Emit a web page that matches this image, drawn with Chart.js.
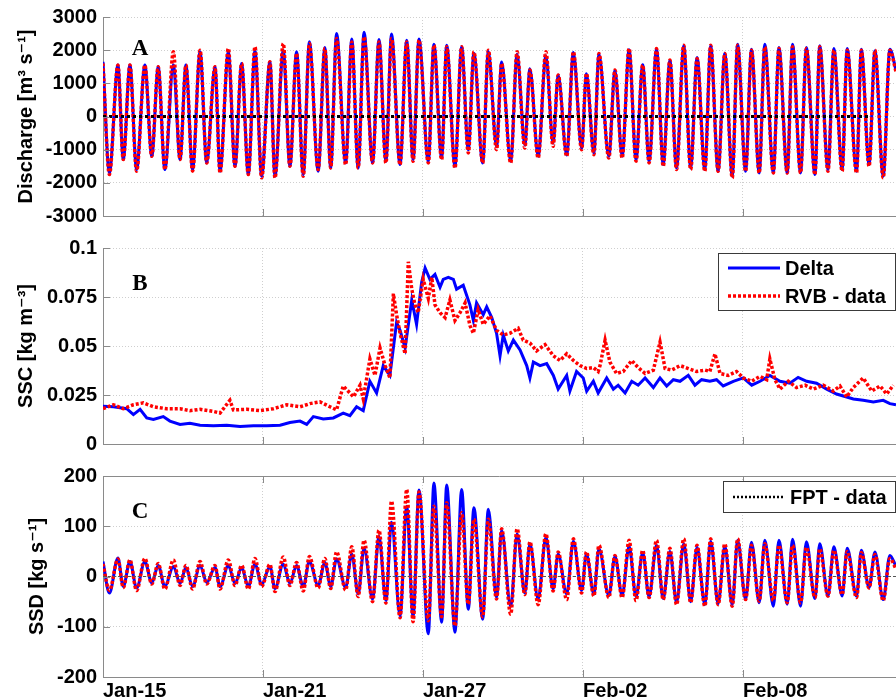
<!DOCTYPE html>
<html lang="en">
<head>
  <meta charset="UTF-8" />
  <title>Discharge, SSC and SSD</title>
  <style>
    body { margin: 0; background: #fff; }
    #wrap { position: relative; width: 896px; height: 699px; overflow: hidden; background: #fff; }
    #wrap canvas { position: absolute; left: 0; }
  </style>
</head>
<body>
  <div id="wrap">
    <canvas id="qChart" width="896" height="232" style="top:0"></canvas>
    <canvas id="sscChart" width="896" height="228" style="top:232px"></canvas>
    <canvas id="ssdChart" width="896" height="239" style="top:460px"></canvas>
  </div>

  <script src="https://cdn.jsdelivr.net/npm/chart.js"></script>
  <script>
    // x axis: days since Jan-15
    const dateTicks = [0, 6, 12, 18, 24];
    const dateLabels = ['Jan-15', 'Jan-21', 'Jan-27', 'Feb-02', 'Feb-08'];

    const qTickLabels = ['-3000', '-2000', '-1000', '0', '1000', '2000', '3000'];
    const sscTickLabels = ['0', '0.025', '0.05', '0.075', '0.1'];
    const ssdTickLabels = ['-200', '-100', '0', '100', '200'];

    // times of the tidal highs and lows (days), shared by discharge and SSD
    const tideDays = [
      0, 0.24, 0.56, 0.76, 1.01, 1.26, 1.57, 1.83, 2.07, 2.32,
      2.64, 2.89, 3.11, 3.36, 3.64, 3.89, 4.20, 4.39, 4.70, 4.95,
      5.20, 5.45, 5.70, 5.95, 6.26, 6.45, 6.76, 7.01, 7.26, 7.51,
      7.74, 8.07, 8.32, 8.54, 8.76, 9.10, 9.33, 9.57, 9.79, 10.11,
      10.35, 10.61, 10.82, 11.14, 11.39, 11.63, 11.85, 12.20, 12.41, 12.70,
      12.89, 13.20, 13.45, 13.70, 13.91, 14.24, 14.45, 14.76, 14.95, 15.29,
      15.53, 15.82, 16.01, 16.32, 16.61, 16.88, 17.07, 17.39, 17.64, 17.95,
      18.13, 18.41, 18.60, 18.97, 19.20, 19.47, 19.73, 19.99, 20.24, 20.48,
      20.76, 21.01, 21.26, 21.51, 21.78, 22.04, 22.28, 22.57, 22.79, 23.07,
      23.32, 23.60, 23.80, 24.10, 24.32, 24.61, 24.82, 25.14, 25.35, 25.66,
      25.86, 26.16, 26.38, 26.70, 26.88, 27.19, 27.41, 27.72, 27.91, 28.26,
      28.44, 28.73, 28.95, 29.26, 29.51, 29.74
    ];

    // discharge [m3 s-1]
    const qDelta = [
      1650, -1700, 1550, -1300, 1550, -1600, 1550, -1200, 1500, -1600,
      1550, -1300, 1550, -1600, 1950, -1400, 1500, -1650, 1950, -1500,
      1600, -1750, 2000, -1800, 1650, -1800, 2000, -1500, 1950, -1750,
      2250, -1650, 2080, -1550, 2500, -1400, 2340, -1550, 2540, -1400,
      2320, -1350, 2490, -1450, 2300, -1300, 2340, -1350, 2180, -1250,
      2150, -1500, 2100, -1000, 1910, -1400, 1960, -910, 1640, -1350,
      1880, -860, 1440, -1200, 1830, -810, 1250, -1160, 1930, -960,
      1290, -1100, 1880, -1200, 1390, -1200, 2010, -1300, 1560, -1350,
      2030, -1450, 1690, -1550, 2130, -1550, 1780, -1600, 2130, -1650,
      1910, -1800, 2180, -1650, 2030, -1700, 2180, -1700, 2080, -1700,
      2180, -1700, 2080, -1750, 2130, -1600, 2050, -1600, 2050, -1650,
      2030, -1450, 1980, -1800, 2030, 1400
    ];
    const qRvb = [
      1600, -1750, 1550, -1300, 1550, -1650, 1550, -1200, 1500, -1600,
      1950, -1300, 1550, -1650, 2000, -1400, 1500, -1700, 2050, -1500,
      1600, -1750, 2100, -1850, 1650, -1850, 2200, -1500, 1900, -1800,
      2200, -1600, 2050, -1550, 2350, -1450, 2250, -1550, 2400, -1400,
      2250, -1400, 2350, -1450, 2250, -1350, 2300, -1400, 2150, -1300,
      2100, -1550, 2100, -1100, 1950, -1400, 2000, -1000, 1600, -1400,
      1950, -950, 1400, -1250, 1950, -900, 1250, -1200, 1950, -1000,
      1300, -1150, 1900, -1250, 1400, -1250, 2050, -1350, 1550, -1400,
      2050, -1500, 1700, -1600, 2150, -1600, 1750, -1650, 2150, -1650,
      1900, -1850, 2150, -1650, 2000, -1700, 2100, -1700, 2050, -1700,
      2100, -1700, 2050, -1750, 2100, -1650, 2000, -1650, 2000, -1700,
      2000, -1500, 2000, -1850, 2000, 1350
    ];
    const fptQDays = [0, 28.7];
    const fptQ = [0, 0];

    // suspended sediment concentration [kg m-3]
    const sscDeltaDays = [
      0, 0.39, 0.89, 1.14, 1.39, 1.64, 1.89, 2.26, 2.51, 2.89,
      3.26, 3.64, 4.14, 4.64, 5.14, 5.64, 6.14, 6.64, 7.01, 7.39,
      7.64, 7.89, 8.26, 8.64, 9.01, 9.26, 9.51, 9.76, 10.01, 10.26,
      10.51, 10.76, 11.01, 11.14, 11.33, 11.58, 11.76, 11.95, 12.08, 12.26,
      12.45, 12.64, 12.76, 12.95, 13.14, 13.26, 13.51, 13.76, 13.89, 14.01,
      14.26, 14.39, 14.58, 14.76, 14.89, 15.01, 15.20, 15.39, 15.64, 15.89,
      16.01, 16.14, 16.39, 16.64, 16.89, 17.07, 17.39, 17.51, 17.76, 18.01,
      18.14, 18.39, 18.57, 18.89, 19.14, 19.32, 19.58, 19.83, 20.07, 20.33,
      20.64, 20.89, 21.14, 21.39, 21.64, 21.95, 22.20, 22.45, 22.76, 23.01,
      23.26, 23.64, 24.01, 24.33, 24.64, 25.01, 25.39, 25.76, 26.07, 26.39,
      26.76, 27.14, 27.51, 27.89, 28.14, 28.51, 28.89, 29.26, 29.51, 29.74
    ];
    const sscDelta = [
      0.0193, 0.019, 0.018, 0.015, 0.0177, 0.0133, 0.0125, 0.014, 0.0117, 0.010,
      0.0106, 0.0096, 0.0093, 0.0096, 0.0089, 0.0093, 0.0093, 0.0096, 0.011, 0.0117,
      0.010, 0.014, 0.0128, 0.0133, 0.0158, 0.0145, 0.019, 0.017, 0.032, 0.026,
      0.040, 0.035, 0.062, 0.058, 0.049, 0.0735, 0.061, 0.0825, 0.0898, 0.084,
      0.0865, 0.080, 0.084, 0.085, 0.084, 0.079, 0.081, 0.071, 0.063, 0.072,
      0.066, 0.070, 0.0645, 0.0565, 0.045, 0.0556, 0.0475, 0.053, 0.048, 0.040,
      0.0337, 0.0418, 0.040, 0.041, 0.035, 0.028, 0.035, 0.027, 0.037, 0.0337,
      0.027, 0.032, 0.026, 0.0337, 0.028, 0.030, 0.026, 0.032, 0.030, 0.0337,
      0.0288, 0.0337, 0.0296, 0.0328, 0.032, 0.035, 0.030, 0.0328, 0.032, 0.0328,
      0.0296, 0.032, 0.0337, 0.030, 0.032, 0.035, 0.032, 0.031, 0.034, 0.032,
      0.031, 0.028, 0.0255, 0.024, 0.023, 0.0223, 0.0215, 0.0223, 0.0206, 0.020
    ];
    const sscRvbDays = [
      0, 0.39, 0.76, 1.14, 1.51, 1.89, 2.39, 2.89, 3.26, 3.64,
      4.14, 4.39, 4.76, 4.89, 5.39, 5.89, 6.39, 6.89, 7.39, 7.76,
      8.14, 8.51, 8.76, 9.01, 9.26, 9.39, 9.64, 9.76, 10.01, 10.20,
      10.39, 10.58, 10.76, 10.89, 11.01, 11.14, 11.33, 11.45, 11.58, 11.70,
      11.82, 12.01, 12.20, 12.33, 12.45, 12.64, 12.83, 13.01, 13.20, 13.39,
      13.58, 13.76, 13.89, 14.07, 14.26, 14.51, 14.76, 15.01, 15.26, 15.57,
      15.76, 16.01, 16.26, 16.58, 16.89, 17.14, 17.39, 17.64, 17.89, 18.14,
      18.39, 18.57, 18.64, 18.83, 19.01, 19.26, 19.51, 19.83, 20.07, 20.33,
      20.64, 20.89, 21.08, 21.33, 21.64, 21.95, 22.26, 22.58, 22.76, 22.95,
      23.14, 23.45, 23.76, 24.01, 24.33, 24.64, 24.89, 25.01, 25.20, 25.39,
      25.70, 26.01, 26.33, 26.64, 27.01, 27.39, 27.64, 27.89, 28.14, 28.51,
      28.83, 29.14, 29.39, 29.64
    ];
    const sscRvb = [
      0.018, 0.020, 0.018, 0.020, 0.021, 0.019, 0.018, 0.018, 0.017, 0.0177,
      0.0166, 0.0158, 0.0223, 0.0174, 0.0177, 0.017, 0.018, 0.020, 0.019, 0.0206,
      0.0215, 0.019, 0.0174, 0.0296, 0.026, 0.024, 0.030, 0.023, 0.0434, 0.035,
      0.049, 0.040, 0.0337, 0.0767, 0.066, 0.0565, 0.046, 0.093, 0.079, 0.071,
      0.067, 0.084, 0.0743, 0.085, 0.071, 0.067, 0.0645, 0.0735, 0.063, 0.067,
      0.072, 0.0605, 0.0565, 0.0686, 0.061, 0.0654, 0.058, 0.0556, 0.0565, 0.059,
      0.053, 0.0515, 0.0475, 0.0507, 0.045, 0.0426, 0.046, 0.0426, 0.040, 0.0385,
      0.039, 0.037, 0.040, 0.053, 0.0418, 0.036, 0.037, 0.0426, 0.039, 0.036,
      0.0377, 0.052, 0.0385, 0.0377, 0.040, 0.0385, 0.037, 0.0377, 0.037, 0.046,
      0.036, 0.035, 0.037, 0.0337, 0.032, 0.0345, 0.0328, 0.0434, 0.0328, 0.028,
      0.032, 0.0288, 0.030, 0.028, 0.030, 0.027, 0.0296, 0.024, 0.0288, 0.0337,
      0.027, 0.0296, 0.0255, 0.030
    ];

    // suspended sediment discharge [kg s-1]
    const ssdDelta = [
      30, -33, 37, -20, 30, -23, 30, -13, 22, -20,
      20, -14, 18, -20, 22, -12, 18, -20, 22, -14,
      18, -20, 25, -16, 20, -24, 25, -14, 22, -20,
      30, -18, 28, -20, 35, -22, 45, -35, 56, -45,
      80, -48, 108, -78, 140, -80, 172, -114, 186, -91,
      182, -111, 173, -65, 137, -85, 134, -42, 92, -60,
      85, -33, 65, -45, 78, -25, 45, -35, 70, -28,
      45, -35, 55, -38, 40, -38, 60, -40, 48, -40,
      62, -44, 50, -52, 65, -50, 58, -56, 70, -54,
      60, -56, 72, -46, 68, -52, 72, -59, 72, -55,
      74, -59, 69, -44, 65, -39, 59, -39, 56, -39,
      52, -22, 49, -46, 42, 20
    ];
    const ssdRvb = [
      25, -28, 35, -22, 33, -28, 36, -15, 26, -25,
      33, -18, 22, -25, 30, -15, 22, -25, 33, -18,
      22, -25, 36, -20, 24, -30, 39, -18, 28, -29,
      40, -23, 36, -24, 49, -27, 59, -40, 72, -50,
      92, -53, 150, -82, 173, -90, 168, -88, 140, -80,
      147, -98, 127, -55, 114, -80, 114, -45, 95, -75,
      95, -36, 69, -56, 85, -29, 49, -46, 75, -33,
      49, -39, 62, -42, 42, -42, 72, -48, 52, -42,
      72, -46, 56, -56, 75, -52, 62, -59, 75, -56,
      65, -59, 75, -46, 62, -49, 65, -48, 62, -52,
      62, -52, 58, -42, 55, -39, 52, -36, 50, -42,
      48, -23, 44, -48, 36, 15
    ];
    const fptSsdDays = [0, 29.74];
    const fptSsd = [0, 0];

    // ---- styling ----
    const X_MAX = 29.74;
    const sans = '"Liberation Sans", Arial, "DejaVu Sans", sans-serif';
    const tickFont = { family: sans, size: 20, weight: 'bold', lineHeight: 1 };
    const titleFont = { family: sans, size: 20, weight: 'bold', lineHeight: 1.2 };
    const axisColor = '#8a8a8a';
    const gridColor = '#cfcfcf';
    const BLUE = '#0000ff';
    const RED = '#ff0000';

    const pts = (xs, ys) => xs.map((x, i) => ({ x: x, y: ys[i] }));

    function xAxis(showLabels, height) {
      return {
        type: 'linear',
        min: 0,
        max: X_MAX,
        ticks: {
          display: showLabels,
          stepSize: 6,
          includeBounds: false,
          autoSkip: false,
          maxRotation: 0,
          align: 'start',
          padding: 4,
          color: '#000',
          font: tickFont,
          callback: v => dateLabels[dateTicks.indexOf(v)]
        },
        grid: { color: gridColor, drawTicks: false },
        border: { display: true, color: axisColor, dash: [1, 2] },
        afterFit: s => { s.height = height; }
      };
    }

    function yAxis(min, max, step, labels, text, width) {
      return {
        type: 'linear',
        min: min,
        max: max,
        ticks: {
          stepSize: step,
          padding: 6,
          color: '#000',
          font: tickFont,
          callback: (v, i) => labels[i]
        },
        grid: { color: gridColor, drawTicks: false },
        border: { display: true, color: axisColor, dash: [1, 2] },
        title: { display: true, text: text, color: '#000', font: titleFont, padding: 0 },
        afterFit: s => { s.width = width; }
      };
    }

    function line(data, color, width, dash, smooth) {
      return {
        data: data,
        borderColor: color,
        borderWidth: width,
        borderDash: dash,
        pointRadius: 0,
        fill: false,
        cubicInterpolationMode: smooth ? 'monotone' : 'default',
        tension: 0
      };
    }

    // inner tick marks, optional top border, panel letter and legend box
    const decor = {
      id: 'decor',
      afterDraw(chart, args, opts) {
        const { ctx, chartArea: a, scales } = chart;
        ctx.save();
        ctx.strokeStyle = axisColor;
        ctx.lineWidth = 1;
        ctx.beginPath();
        dateTicks.forEach(d => {
          const px = Math.round(scales.x.getPixelForValue(d)) + 0.5;
          ctx.moveTo(px, a.bottom);
          ctx.lineTo(px, a.bottom - 7);
          if (opts.box) {
            ctx.moveTo(px, a.top);
            ctx.lineTo(px, a.top + 7);
          }
        });
        scales.y.ticks.forEach(t => {
          const py = Math.round(scales.y.getPixelForValue(t.value)) + 0.5;
          ctx.moveTo(a.left, py);
          ctx.lineTo(a.left + 7, py);
        });
        if (opts.box) {
          ctx.moveTo(a.left, a.top + 0.5);
          ctx.lineTo(a.right, a.top + 0.5);
        }
        ctx.stroke();

        ctx.fillStyle = '#000';
        ctx.font = 'bold 23px "Liberation Serif", "Times New Roman", serif';
        ctx.textAlign = 'center';
        ctx.textBaseline = 'alphabetic';
        ctx.fillText(opts.letter, 140, opts.letterY);

        const lg = opts.legend;
        if (lg) {
          ctx.fillStyle = '#fff';
          ctx.fillRect(lg.x, lg.y, lg.w, lg.h);
          ctx.strokeStyle = '#3a3a3a';
          ctx.strokeRect(lg.x + 0.5, lg.y + 0.5, lg.w, lg.h);
          ctx.font = 'bold 20px ' + sans;
          ctx.textAlign = 'left';
          ctx.textBaseline = 'middle';
          lg.items.forEach(it => {
            ctx.beginPath();
            ctx.strokeStyle = it.color;
            ctx.lineWidth = it.width;
            ctx.setLineDash(it.dash);
            ctx.moveTo(lg.lineX0, it.y);
            ctx.lineTo(lg.lineX1, it.y);
            ctx.stroke();
            ctx.setLineDash([]);
            ctx.fillStyle = '#000';
            ctx.fillText(it.label, lg.textX, it.y + 1);
          });
        }
        ctx.restore();
      }
    };

    function baseOptions(padLeft, padTop, x, y, decorOpts) {
      return {
        responsive: false,
        animation: false,
        devicePixelRatio: 1,
        layout: { padding: { left: padLeft, top: padTop, right: 0, bottom: 0 } },
        scales: { x: x, y: y },
        plugins: {
          legend: { display: false },
          tooltip: { enabled: false },
          decor: decorOpts
        }
      };
    }

    // A: discharge
    new Chart(document.getElementById('qChart'), {
      type: 'line',
      data: {
        datasets: [
          line(pts(fptQDays, fptQ), '#000', 3, [3, 3], false),
          line(pts(tideDays, qRvb), RED, 3.5, [3, 2], true),
          line(pts(tideDays, qDelta), BLUE, 3, [], true)
        ]
      },
      options: baseOptions(14, 17,
        xAxis(false, 11),
        yAxis(-3000, 3000, 1000, qTickLabels, 'Discharge [m³ s⁻¹]', 89),
        { letter: 'A', letterY: 55, box: false }),
      plugins: [decor]
    });

    // B: suspended sediment concentration
    new Chart(document.getElementById('sscChart'), {
      type: 'line',
      data: {
        datasets: [
          line(pts(sscRvbDays, sscRvb), RED, 3.5, [3, 2], false),
          line(pts(sscDeltaDays, sscDelta), BLUE, 3, [], false)
        ]
      },
      options: baseOptions(14, 12,
        xAxis(false, 11),
        yAxis(0, 0.1, 0.025, sscTickLabels, 'SSC [kg m⁻³]', 89),
        {
          letter: 'B', letterY: 58, box: false,
          legend: {
            x: 718, y: 21, w: 177, h: 57, lineX0: 728, lineX1: 780, textX: 785,
            items: [
              { label: 'Delta', color: BLUE, width: 3, dash: [], y: 36 },
              { label: 'RVB - data', color: RED, width: 3.5, dash: [3, 2], y: 64 }
            ]
          }
        }),
      plugins: [decor]
    });

    // C: suspended sediment discharge
    new Chart(document.getElementById('ssdChart'), {
      type: 'line',
      data: {
        datasets: [
          line(pts(fptSsdDays, fptSsd), '#555', 1.2, [3, 2], false),
          line(pts(tideDays, ssdRvb), RED, 3.5, [3, 2], true),
          line(pts(tideDays, ssdDelta), BLUE, 3, [], true)
        ]
      },
      options: baseOptions(25, 13,
        xAxis(true, 22),
        yAxis(-200, 200, 100, ssdTickLabels, 'SSD [kg s⁻¹]', 78),
        {
          letter: 'C', letterY: 58, box: true,
          legend: {
            x: 723, y: 21, w: 172, h: 31, lineX0: 733, lineX1: 783, textX: 790,
            items: [
              { label: 'FPT - data', color: '#000', width: 2.5, dash: [2, 2], y: 37 }
            ]
          }
        }),
      plugins: [decor]
    });
  </script>
</body>
</html>
